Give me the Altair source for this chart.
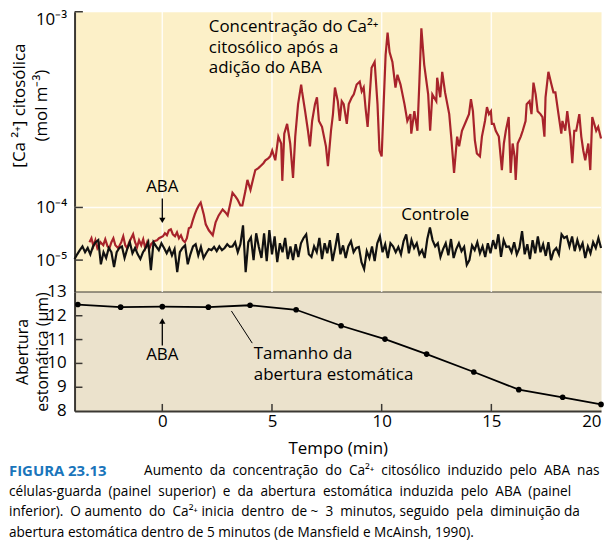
import altair as alt
import pandas as pd

# ---------------- data ----------------
# Cytosolic Ca2+ after ABA (red trace): time (min), log10 concentration (mol m-3)
aba_time = [
    -3.32, -3.23, -3.14, -3.05, -2.96, -2.82, -2.69, -2.60, -2.50, -2.41,
    -2.32, -2.23, -2.14, -2.01, -1.87, -1.78, -1.69, -1.60, -1.51, -1.42,
    -1.33, -1.24, -1.15, -1.06, -0.96, -0.87, -0.78, -0.69, -0.60, -0.51,
    -0.38, -0.24, -0.15, -0.06, 0.03, 0.12, 0.21, 0.30, 0.39, 0.48,
    0.58, 0.67, 0.76, 0.85, 0.94, 1.03, 1.12, 1.21, 1.30, 1.39,
    1.48, 1.57, 1.66, 1.75, 1.89, 1.98, 2.12, 2.30, 2.43, 2.57,
    2.75, 2.88, 2.98, 3.11, 3.20, 3.34, 3.43, 3.56, 3.65, 3.79,
    3.88, 4.02, 4.15, 4.24, 4.38, 4.47, 4.61, 4.70, 4.83, 4.92,
    5.01, 5.15, 5.29, 5.42, 5.47, 5.56, 5.69, 5.83, 5.96, 6.06,
    6.19, 6.33, 6.37, 6.51, 6.64, 6.73, 6.83, 6.96, 7.05, 7.14,
    7.28, 7.46, 7.55, 7.60, 7.69, 7.78, 7.87, 8.00, 8.09, 8.18,
    8.27, 8.41, 8.50, 8.64, 8.73, 8.86, 9.00, 9.09, 9.18, 9.27,
    9.36, 9.45, 9.54, 9.68, 9.81, 9.90, 10.00, 10.09, 10.18, 10.27,
    10.36, 10.49, 10.63, 10.72, 10.86, 11.04, 11.17, 11.31, 11.35, 11.49,
    11.63, 11.72, 11.81, 11.94, 12.12, 12.21, 12.31, 12.49, 12.53, 12.67,
    12.76, 12.89, 13.08, 13.17, 13.30, 13.44, 13.53, 13.66, 13.85, 13.98,
    14.07, 14.16, 14.25, 14.34, 14.48, 14.57, 14.71, 14.80, 14.89, 14.98,
    15.02, 15.11, 15.20, 15.34, 15.48, 15.57, 15.66, 15.79, 15.88, 15.97,
    16.06, 16.11, 16.20, 16.34, 16.43, 16.56, 16.61, 16.74, 16.83, 16.92,
    17.02, 17.11, 17.24, 17.33, 17.42, 17.47, 17.60, 17.74, 17.83, 17.92,
    18.06, 18.19, 18.24, 18.37, 18.46, 18.60, 18.69, 18.78, 18.87, 19.01,
    19.10, 19.19, 19.28, 19.42, 19.51, 19.60, 19.69, 19.78, 19.87, 20.00,
]
aba_log10 = [
    -4.660, -4.585, -4.736, -4.623, -4.774, -4.660, -4.717, -4.604, -4.736, -4.774,
    -4.660, -4.585, -4.717, -4.774, -4.660, -4.547, -4.717, -4.774, -4.660, -4.585,
    -4.509, -4.660, -4.755, -4.623, -4.717, -4.604, -4.774, -4.660, -4.792, -4.698,
    -4.642, -4.623, -4.585, -4.566, -4.547, -4.491, -4.528, -4.434, -4.415, -4.509,
    -4.547, -4.472, -4.585, -4.528, -4.623, -4.660, -4.585, -4.396, -4.377, -4.245,
    -4.132, -4.038, -3.990, -3.975, -4.132, -4.321, -4.434, -4.528, -4.283, -4.151,
    -4.038, -4.094, -4.151, -3.975, -3.925, -3.945, -3.960, -3.990, -3.990, -3.915,
    -3.859, -3.910, -3.849, -3.809, -3.799, -3.789, -3.774, -3.759, -3.749, -3.739,
    -3.709, -3.759, -3.638, -3.673, -3.864, -3.623, -3.573, -3.673, -3.849, -3.638,
    -3.472, -3.372, -3.407, -3.508, -3.608, -3.688, -3.558, -3.472, -3.437, -3.558,
    -3.588, -3.688, -3.789, -3.724, -3.608, -3.523, -3.387, -3.457, -3.558, -3.457,
    -3.472, -3.573, -3.472, -3.437, -3.422, -3.372, -3.357, -3.407, -3.387, -3.497,
    -3.588, -3.437, -3.286, -3.256, -3.472, -3.709, -3.739, -3.472, -3.221, -3.106,
    -3.206, -3.256, -3.387, -3.322, -3.372, -3.472, -3.558, -3.523, -3.623, -3.508,
    -3.608, -3.357, -3.085, -3.271, -3.422, -3.608, -3.422, -3.457, -3.337, -3.437,
    -3.307, -3.412, -3.523, -3.638, -3.824, -3.638, -3.688, -3.608, -3.558, -3.523,
    -3.447, -3.508, -3.658, -3.724, -3.739, -3.638, -3.558, -3.487, -3.523, -3.508,
    -3.573, -3.573, -3.608, -3.638, -3.809, -3.673, -3.608, -3.538, -3.824, -3.673,
    -3.739, -3.859, -3.673, -3.638, -3.608, -3.558, -3.472, -3.457, -3.523, -3.362,
    -3.422, -3.508, -3.523, -3.538, -3.638, -3.437, -3.307, -3.372, -3.412, -3.412,
    -3.523, -3.623, -3.558, -3.608, -3.508, -3.638, -3.774, -3.608, -3.608, -3.523,
    -3.638, -3.709, -3.759, -3.673, -3.809, -3.538, -3.573, -3.608, -3.588, -3.648,
]

# Control trace (black): time (min), log10 concentration (mol m-3)
ctrl_time = [
    -4.0, -3.88, -3.76, -3.64, -3.52, -3.4, -3.28, -3.16, -3.04, -2.92,
    -2.8, -2.68, -2.56, -2.44, -2.32, -2.2, -2.08, -1.96, -1.84, -1.72,
    -1.6, -1.48, -1.36, -1.24, -1.12, -1.0, -0.88, -0.76, -0.64, -0.52,
    -0.4, -0.28, -0.16, -0.04, 0.08, 0.2, 0.32, 0.44, 0.56, 0.68,
    0.8, 0.92, 1.04, 1.16, 1.28, 1.4, 1.52, 1.64, 1.76, 1.88,
    2.0, 2.12, 2.24, 2.36, 2.48, 2.6, 2.72, 2.84, 2.96, 3.08,
    3.2, 3.32, 3.44, 3.56, 3.68, 3.8, 3.92, 4.04, 4.16, 4.28,
    4.4, 4.52, 4.64, 4.76, 4.88, 5.0, 5.12, 5.24, 5.36, 5.48,
    5.6, 5.72, 5.84, 5.96, 6.08, 6.2, 6.32, 6.44, 6.56, 6.68,
    6.8, 6.92, 7.04, 7.16, 7.28, 7.4, 7.52, 7.64, 7.76, 7.88,
    8.0, 8.12, 8.24, 8.36, 8.48, 8.6, 8.72, 8.84, 8.96, 9.08,
    9.2, 9.32, 9.44, 9.56, 9.68, 9.8, 9.92, 10.04, 10.16, 10.28,
    10.4, 10.52, 10.64, 10.76, 10.88, 11.0, 11.12, 11.24, 11.36, 11.48,
    11.6, 11.72, 11.84, 11.96, 12.08, 12.2, 12.32, 12.44, 12.56, 12.68,
    12.8, 12.92, 13.04, 13.16, 13.28, 13.4, 13.52, 13.64, 13.76, 13.88,
    14.0, 14.12, 14.24, 14.36, 14.48, 14.6, 14.72, 14.84, 14.96, 15.08,
    15.2, 15.32, 15.44, 15.56, 15.68, 15.8, 15.92, 16.04, 16.16, 16.28,
    16.4, 16.52, 16.64, 16.76, 16.88, 17.0, 17.12, 17.24, 17.36, 17.48,
    17.6, 17.72, 17.84, 17.96, 18.08, 18.2, 18.32, 18.44, 18.56, 18.68,
    18.8, 18.92, 19.04, 19.16, 19.28, 19.4, 19.52, 19.64, 19.76, 19.88,
    20.0,
]
ctrl_log10 = [
    -4.98, -4.89, -4.81, -4.74, -4.85, -4.77, -4.89, -4.74, -4.66, -4.62,
    -5.08, -4.85, -4.96, -4.77, -4.85, -5.13, -4.85, -4.77, -4.74, -4.96,
    -4.79, -4.66, -4.87, -4.77, -4.89, -4.98, -4.85, -4.77, -4.66, -5.19,
    -4.66, -4.74, -4.81, -4.68, -4.77, -4.87, -4.77, -4.91, -4.79, -5.23,
    -4.85, -4.77, -4.72, -5.08, -4.89, -4.74, -4.70, -4.91, -4.75, -4.96,
    -4.87, -4.79, -4.81, -4.75, -4.83, -4.74, -4.81, -4.77, -4.70, -4.75,
    -4.74, -4.66, -4.85, -4.70, -4.34, -5.23, -4.66, -4.57, -5.00, -4.49,
    -4.75, -4.96, -4.49, -5.02, -4.43, -4.89, -4.55, -5.04, -4.68, -4.85,
    -4.58, -4.98, -4.74, -5.00, -4.70, -4.94, -4.68, -4.58, -4.51, -4.89,
    -4.94, -4.74, -4.85, -4.58, -4.98, -4.68, -4.87, -4.62, -5.02, -4.77,
    -4.49, -4.89, -4.72, -4.96, -4.74, -4.64, -4.85, -4.77, -4.75, -5.04,
    -5.17, -4.83, -4.96, -4.74, -5.02, -4.68, -4.55, -4.85, -4.70, -4.96,
    -4.68, -4.74, -4.85, -4.75, -4.89, -4.64, -4.51, -4.87, -4.62, -4.77,
    -4.68, -4.89, -4.81, -4.96, -4.60, -4.38, -4.62, -4.74, -4.68, -4.94,
    -4.79, -4.68, -4.91, -4.60, -4.96, -4.79, -4.68, -4.83, -4.75, -5.09,
    -5.00, -4.72, -4.81, -4.66, -4.87, -4.74, -4.94, -4.68, -4.87, -4.62,
    -4.79, -4.51, -4.94, -4.62, -4.75, -4.74, -4.85, -4.66, -4.89, -4.77,
    -4.45, -4.89, -4.70, -4.98, -4.62, -4.87, -4.55, -4.85, -4.70, -4.92,
    -4.66, -5.00, -4.83, -4.77, -4.89, -4.51, -4.58, -4.55, -4.74, -4.55,
    -4.83, -4.62, -4.79, -4.68, -4.96, -4.74, -4.87, -4.66, -4.77, -4.58,
    -4.77,
]

# Stomatal aperture (bottom panel)
stoma_time = [-3.85, -1.9, 0.0, 2.1, 4.0, 6.1, 8.15, 10.15, 12.05, 14.2, 16.25, 18.25, 20.0]
stoma_um = [12.47, 12.36, 12.38, 12.36, 12.44, 12.25, 11.58, 11.02, 10.39, 9.64, 8.90, 8.58, 8.28]

# axis ticks / labels
top_y_ticks = [-5, -4, -3]
top_y_labels = ["10⁻⁵", "10⁻⁴", "10⁻³"]
bot_y_ticks = [8, 9, 10, 11, 12, 13]
bot_y_labels = ["8", "9", "10", "11", "12", "13"]
x_ticks = [0, 5, 10, 15, 20]
grid_x = [0, 5, 10, 15]

caption_head = "FIGURA 23.13"
caption_words = [
    "Aumento da concentração do Ca²⁺ citosólico induzido pelo ABA nas",
    "células-guarda (painel superior) e da abertura estomática induzida pelo ABA (painel",
    "inferior). O aumento do Ca²⁺ inicia dentro de ~ 3 minutos, seguido pela diminuição da",
    "abertura estomática dentro de 5 minutos (de Mansfield e McAinsh, 1990).",
]
# extra non-breaking spaces per word gap (to imitate the justified paragraph)
caption_fill = [
    [1, 1, 1, 1, 1, 1, 1, 1, 1, 1],
    [1, 1, 1, 1, 1, 1, 1, 1, 1, 1],
    [1, 0, 1, 1, 0, 1, 1, 0, 1, 1, 0, 1, 1, 0],
    [],
]


def justify(line, fill):
    words = line.split(" ")
    if not fill:
        return line
    out = words[0]
    for w, n in zip(words[1:], fill):
        out += " " + "\u00a0" * n + w
    return out


caption_lines = [justify(l, f) for l, f in zip(caption_words, caption_fill)]

# ---------------- styles ----------------
FONT = "Open Sans"
AX = "#3b3833"
RED = "#A8232B"
TOP_BG = "#FCF0C8"
BOT_BG = "#EBE2CC"
BLUE = "#1A75BB"
FS = 17

W = 530
H_TOP = 282
H_BOT = 120

df_aba = pd.DataFrame({"t": aba_time, "v": aba_log10})
df_ctrl = pd.DataFrame({"t": ctrl_time, "v": ctrl_log10})
df_stoma = pd.DataFrame({"t": stoma_time, "a": stoma_um})
df_bot_lab = pd.DataFrame({"a": bot_y_ticks, "lab": bot_y_labels})
one = alt.Data(values=[{}])

x_scale = alt.Scale(domain=[-4, 20], nice=False, zero=False)
y_top_scale = alt.Scale(domain=[-5.604, -4, -3], range=[H_TOP, 197, 0], nice=False, zero=False)
y_bot_scale = alt.Scale(domain=[8, 13], nice=False, zero=False)

label_expr = "datum.value == -3 ? '%s' : (datum.value == -4 ? '%s' : '%s')" % (
    top_y_labels[2], top_y_labels[1], top_y_labels[0])

top_x_axis = alt.Axis(labels=False, ticks=False, grid=False, title=None,
                      domainColor=AX, domainWidth=2)
top_y_axis = alt.Axis(values=top_y_ticks, labelExpr=label_expr, ticks=False, grid=False,
                      labelPadding=8, labelFontSize=FS, labelColor="black", labelFlush=True,
                      labelOverlap=False,
                      title=["[Ca ²⁺] citosólica", "(mol m⁻³)"], titleAngle=270,
                      titleAlign="center", titleBaseline="bottom", titleX=-46, titleY=94,
                      titleFontSize=FS, titleFontWeight="normal", titleColor="black",
                      titleLineHeight=22, domainColor=AX, domainWidth=2)

# top panel layers
grid_v = alt.Chart(pd.DataFrame({"t": grid_x})).mark_rule(
    color="white", strokeWidth=1.5, opacity=0.85).encode(x=alt.X("t:Q", scale=x_scale, axis=top_x_axis))
grid_h = alt.Chart(one).mark_rule(color="white", strokeWidth=1.5, opacity=0.85).encode(
    y=alt.datum(-4))

aba_line = alt.Chart(df_aba).mark_line(color=RED, strokeWidth=2.2).encode(
    x=alt.X("t:Q", scale=x_scale, axis=top_x_axis),
    y=alt.Y("v:Q", scale=y_top_scale, axis=top_y_axis),
)
ctrl_line = alt.Chart(df_ctrl).mark_line(color="#111111", strokeWidth=2.2).encode(
    x="t:Q", y="v:Q")

top_ticks = alt.Chart(pd.DataFrame({"v": top_y_ticks})).mark_rule(
    color=AX, strokeWidth=1.5).encode(x=alt.datum(-4), x2=alt.datum(-3.62), y="v:Q")

txt = dict(font=FONT, fontSize=FS, color="black")
aba_top = alt.Chart(one).mark_text(text="ABA", align="center", baseline="middle", **txt).encode(
    x=alt.datum(0), y=alt.datum(-3.895))
aba_top_shaft = alt.Chart(one).mark_rule(color="black", strokeWidth=1.3).encode(
    x=alt.datum(0), y=alt.datum(-3.954), y2=alt.datum(-4.25))
aba_top_head = alt.Chart(one).mark_point(shape="triangle-down", filled=True, size=40,
                                          color="black", opacity=1).encode(
    x=alt.datum(0), y=alt.datum(-4.245))
controle = alt.Chart(one).mark_text(text="Controle", align="center", baseline="middle", **txt).encode(
    x=alt.datum(12.44), y=alt.datum(-4.151))
conc_txt = alt.Chart(one).mark_text(
    text=["Concentração do Ca²⁺", "citosólico após a", "adição do ABA"],
    align="left", baseline="top", lineHeight=21, **txt).encode(
    x=alt.datum(2.12), y=alt.datum(-3.036))

top = alt.layer(
    grid_v, grid_h, aba_line, ctrl_line, top_ticks,
    aba_top, aba_top_shaft, aba_top_head, controle, conc_txt,
).properties(width=W, height=H_TOP,
             view=alt.ViewBackground(fill=TOP_BG, stroke="transparent"))

# bottom panel
bot_x_axis = alt.Axis(values=x_ticks, ticks=False, grid=False, labelPadding=3,
                      labelFontSize=FS, labelColor="black", labelFlush=True,
                      labelOverlap=False,
                      title="Tempo (min)", titleFontSize=FS, titleFontWeight="normal",
                      titleColor="black", titlePadding=11, domainColor=AX, domainWidth=2)
bot_y_axis = alt.Axis(values=bot_y_ticks, ticks=False, grid=False, labels=False,
                      title=["Abertura", "estomática  (μm)"], titleAngle=270,
                      titleAlign="center", titleBaseline="bottom", titleX=-44, titleY=60,
                      titleFontSize=16, titleFontWeight="normal", titleColor="black",
                      titleLineHeight=20, domainColor=AX, domainWidth=2)

stoma_line = alt.Chart(df_stoma).mark_line(
    color="black", strokeWidth=1.8,
    point=alt.OverlayMarkDef(filled=True, size=32, color="black"),
).encode(
    x=alt.X("t:Q", scale=x_scale, axis=bot_x_axis),
    y=alt.Y("a:Q", scale=y_bot_scale, axis=bot_y_axis),
)
bot_ylab = alt.Chart(df_bot_lab).mark_text(align="right", baseline="middle", dx=-8, **txt).encode(
    x=alt.datum(-4), y="a:Q", text="lab:N")
bot_yt = alt.Chart(pd.DataFrame({"a": [9, 10, 11, 12]})).mark_rule(
    color=AX, strokeWidth=1.5).encode(x=alt.datum(-4), x2=alt.datum(-3.64), y="a:Q")
bot_xt = alt.Chart(pd.DataFrame({"t": grid_x})).mark_rule(
    color=AX, strokeWidth=1.5).encode(x="t:Q", y=alt.datum(8), y2=alt.datum(8.3))

aba_bot = alt.Chart(one).mark_text(text="ABA", align="center", baseline="middle", **txt).encode(
    x=alt.datum(0), y=alt.datum(10.35))
aba_bot_shaft = alt.Chart(one).mark_rule(color="black", strokeWidth=1.3).encode(
    x=alt.datum(0), y=alt.datum(10.75), y2=alt.datum(11.75))
aba_bot_head = alt.Chart(one).mark_point(shape="triangle-up", filled=True, size=40,
                                          color="black", opacity=1).encode(
    x=alt.datum(0), y=alt.datum(11.78))
leader = alt.Chart(one).mark_rule(color="black", strokeWidth=1).encode(
    x=alt.datum(3.15), y=alt.datum(12.2), x2=alt.datum(4.1), y2=alt.datum(10.85))
tam_txt = alt.Chart(one).mark_text(
    text=["Tamanho da", "abertura estomática"], align="left", baseline="middle",
    lineHeight=21, **txt).encode(x=alt.datum(4.17), y=alt.datum(10.4))

cap = dict(font=FONT, fontSize=13.7, align="left", baseline="middle")
cap0 = alt.Chart(one).mark_text(text=caption_head, fontWeight="bold", color=BLUE,
                                font=FONT, fontSize=15, align="left", baseline="middle").encode(
    x=alt.value(-66), y=alt.value(180))
cap1 = alt.Chart(one).mark_text(text=caption_lines[0], color="black", **cap).encode(
    x=alt.value(70), y=alt.value(180))
cap2 = alt.Chart(one).mark_text(text=caption_lines[1], color="black", **cap).encode(
    x=alt.value(-66), y=alt.value(201))
cap3 = alt.Chart(one).mark_text(text=caption_lines[2], color="black", **cap).encode(
    x=alt.value(-66), y=alt.value(222))
cap4 = alt.Chart(one).mark_text(text=caption_lines[3], color="black", **cap).encode(
    x=alt.value(-66), y=alt.value(243))

bottom = alt.layer(
    stoma_line, bot_ylab, bot_yt, bot_xt, aba_bot, aba_bot_shaft, aba_bot_head, leader, tam_txt,
    cap0, cap1, cap2, cap3, cap4,
).properties(width=W, height=H_BOT,
             view=alt.ViewBackground(fill=BOT_BG, stroke="transparent"))

chart = alt.vconcat(top, bottom, spacing=0, bounds="flush").properties(
    padding=0, background="white"
).configure(font=FONT)

chart.save("out.html", embed_options={"renderer": "svg", "actions": False})
